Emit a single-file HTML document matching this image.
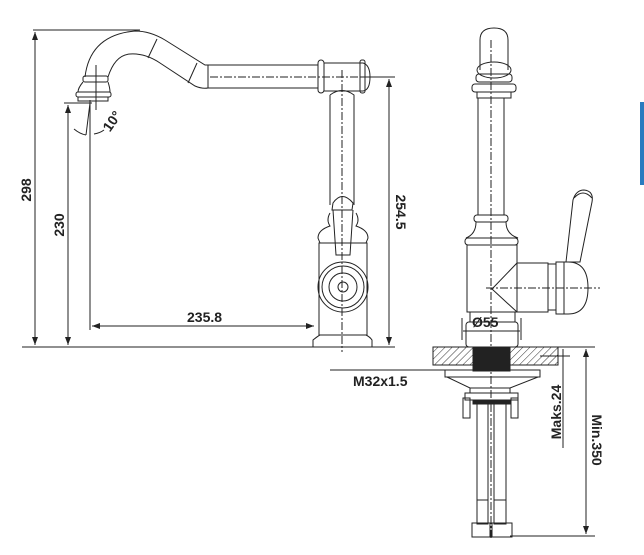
<!DOCTYPE html>
<html><head><meta charset="utf-8"><style>
html,body{margin:0;padding:0;background:#fff;}
svg{display:block;}
text{font-family:"Liberation Sans",sans-serif;font-weight:bold;font-size:14px;fill:#222;}
</style></head><body>
<svg width="644" height="555" viewBox="0 0 644 555" xmlns="http://www.w3.org/2000/svg">
<defs>
<pattern id="h" width="5" height="5" patternUnits="userSpaceOnUse" patternTransform="rotate(45)">
<line x1="0" y1="0" x2="0" y2="5" stroke="#333" stroke-width="1"/></pattern>
<marker id="a" markerWidth="8" markerHeight="6" refX="8" refY="3" orient="auto"><path d="M0,0 L8,3 L0,6Z" fill="#222"/></marker>
</defs>
<g fill="none" stroke="#222" stroke-width="1">
<!-- LEFT VIEW dims -->
<line x1="33" y1="30" x2="140" y2="30"/>
<line x1="35" y1="32" x2="35" y2="345" marker-end="url(#a)"/>
<line x1="35" y1="345" x2="35" y2="32" marker-end="url(#a)"/>
<line x1="22" y1="347" x2="395" y2="347"/>
<line x1="64" y1="103" x2="92" y2="103"/>
<line x1="68" y1="105" x2="68" y2="345" marker-end="url(#a)"/>
<line x1="68" y1="345" x2="68" y2="105" marker-end="url(#a)"/>
<line x1="90" y1="100" x2="90" y2="330"/>
<line x1="92" y1="326" x2="314" y2="326" marker-end="url(#a)"/>
<line x1="314" y1="326" x2="92" y2="326" marker-end="url(#a)"/>
<line x1="360" y1="77" x2="395" y2="77"/>
<line x1="389" y1="79" x2="389" y2="345" marker-end="url(#a)"/>
<line x1="389" y1="345" x2="389" y2="79" marker-end="url(#a)"/>
<line x1="90" y1="103" x2="86" y2="135"/>
<path d="M74,129 Q80,134 86,135"/>
<path d="M94,134 Q100,133 104,130"/>
<!-- spout -->
<path d="M85,77 Q90,35 135,31 Q150,31 165,40 L205,65 L318,65"/>
<path d="M108,77 Q115,55 130,54 Q145,53 160,63 L195,86 Q202,89 208,88 L318,88"/>
<line x1="157" y1="39" x2="148" y2="58"/>
<line x1="197" y1="63" x2="188" y2="83"/>
<line x1="208" y1="65" x2="208" y2="88"/>
<line x1="210" y1="77" x2="385" y2="77" stroke-dasharray="8,2,2,2"/>
<rect x="83" y="76" width="25" height="6" rx="2"/>
<path d="M83,82 Q78,88 78,92 L110,92 Q110,88 108,82"/>
<rect x="76" y="92" width="35" height="5" rx="2"/>
<rect x="78" y="97" width="30" height="4"/>
<line x1="96" y1="65" x2="96" y2="110"/>
<!-- vertical body -->
<rect x="318" y="60" width="6" height="33" rx="3"/>
<path d="M324,63 L363,63 Q370,65 370,77 Q370,90 363,91 L324,91"/>
<rect x="360" y="60" width="5" height="33" rx="2"/>
<path d="M330,95 Q342,86 354,95 L354,205"/>
<path d="M330,95 L330,205"/>
<line x1="342" y1="70" x2="342" y2="352" stroke-dasharray="8,2,2,2"/>
<path d="M333,203 Q342,190 353,203 L352,210 L332,210Z"/>
<path d="M330,213 Q326,220 330,226 Q318,230 318,238 L320,243 L366,243 L368,238 Q368,230 356,226 Q360,220 356,213"/>
<path d="M333,210 L336,255 L350,255 L353,210"/>
<rect x="319" y="243" width="48" height="92"/>
<circle cx="343" cy="287" r="25"/><circle cx="343" cy="287" r="21"/><circle cx="343" cy="287" r="14"/><circle cx="343" cy="287" r="5"/>
<path d="M313,347 L313,340 Q318,336 320,335 L366,335 Q370,337 372,340 L372,347"/>
<!-- RIGHT VIEW -->
<line x1="491" y1="40" x2="491" y2="540" stroke-dasharray="8,2,2,2"/>
<path d="M480,70 L480,40 Q480,28 494,28 Q508,28 508,40 L508,70"/>
<ellipse cx="494" cy="70" rx="17" ry="8"/>
<rect x="476" y="74" width="36" height="8" rx="3"/>
<rect x="472" y="84" width="44" height="8" rx="3"/>
<rect x="477" y="92" width="34" height="6"/>
<line x1="478" y1="98" x2="478" y2="215"/><line x1="504" y1="98" x2="504" y2="215"/>
<rect x="474" y="215" width="34" height="7" rx="3"/>
<path d="M476,222 Q476,234 466,238 L518,238 Q506,234 506,222"/>
<rect x="465" y="238" width="53" height="7" rx="3"/>
<rect x="467" y="245" width="50" height="67"/>
<rect x="470" y="312" width="45" height="10"/>
<rect x="466" y="322" width="52" height="25" rx="3"/>
<path d="M517,263 L548,263 L548,312 L517,312"/>
<path d="M517,263 L492,289 L517,312"/>
<line x1="486" y1="288" x2="600" y2="288" stroke-dasharray="8,2,2,2"/>
<rect x="548" y="264" width="8" height="46"/>
<path d="M556,262 L568,262 Q588,262 588,288 Q588,314 568,314 L556,314Z"/>
<line x1="564" y1="262" x2="564" y2="314"/>
<path d="M566,262 L573,200 Q576,190 584,190 Q594,191 592,202 L580,262Z"/>
<path d="M574,198 Q583,188 592,198"/>
<!-- Ø55 -->
<line x1="462" y1="318" x2="462" y2="340"/><line x1="521" y1="318" x2="521" y2="340"/>
<line x1="463" y1="331" x2="520" y2="331"/>
<!-- slab -->
<rect x="433" y="347" width="40" height="18" fill="url(#h)"/>
<rect x="510" y="347" width="48" height="18" fill="url(#h)"/>
<rect x="473" y="347" width="37" height="24" fill="#222"/>
<line x1="330" y1="370" x2="473" y2="370"/>
<rect x="445" y="370" width="95" height="7"/>
<path d="M447,377 L470,388 L510,388 L538,377"/>
<rect x="470" y="388" width="40" height="5"/>
<rect x="465" y="393" width="53" height="7"/>
<rect x="463" y="398" width="7" height="20"/><rect x="511" y="398" width="7" height="20"/>
<rect x="473" y="400" width="37" height="4" fill="#222"/>
<rect x="477" y="404" width="11" height="120"/><rect x="494" y="404" width="12" height="120"/>
<line x1="477" y1="500" x2="488" y2="500"/><line x1="494" y1="500" x2="506" y2="500"/>
<rect x="472" y="523" width="18" height="14"/><rect x="492" y="523" width="20" height="14"/>
<!-- right dims -->
<line x1="520" y1="347" x2="595" y2="347"/>
<line x1="540" y1="356" x2="570" y2="356"/>
<line x1="563" y1="349" x2="563" y2="448"/>
<line x1="510" y1="536" x2="595" y2="536"/>
<line x1="586" y1="349" x2="586" y2="534" marker-end="url(#a)"/>
<line x1="586" y1="534" x2="586" y2="349" marker-end="url(#a)"/>
</g>
<text x="187" y="322">235.8</text>
<text x="472" y="327">Ø55</text>
<text x="353" y="386">M32x1.5</text>
<text transform="translate(31,190) rotate(-90)" text-anchor="middle">298</text>
<text transform="translate(64,225) rotate(-90)" text-anchor="middle">230</text>
<text transform="translate(396,212) rotate(90)" text-anchor="middle">254.5</text>
<text transform="translate(116,124) rotate(-55)" text-anchor="middle">10°</text>
<text transform="translate(561,412) rotate(-90)" text-anchor="middle">Maks.24</text>
<text transform="translate(592,440) rotate(90)" text-anchor="middle">Min.350</text>
<rect x="640" y="102" width="4" height="83" fill="#2a7bbf"/>
</svg>
</body></html>
